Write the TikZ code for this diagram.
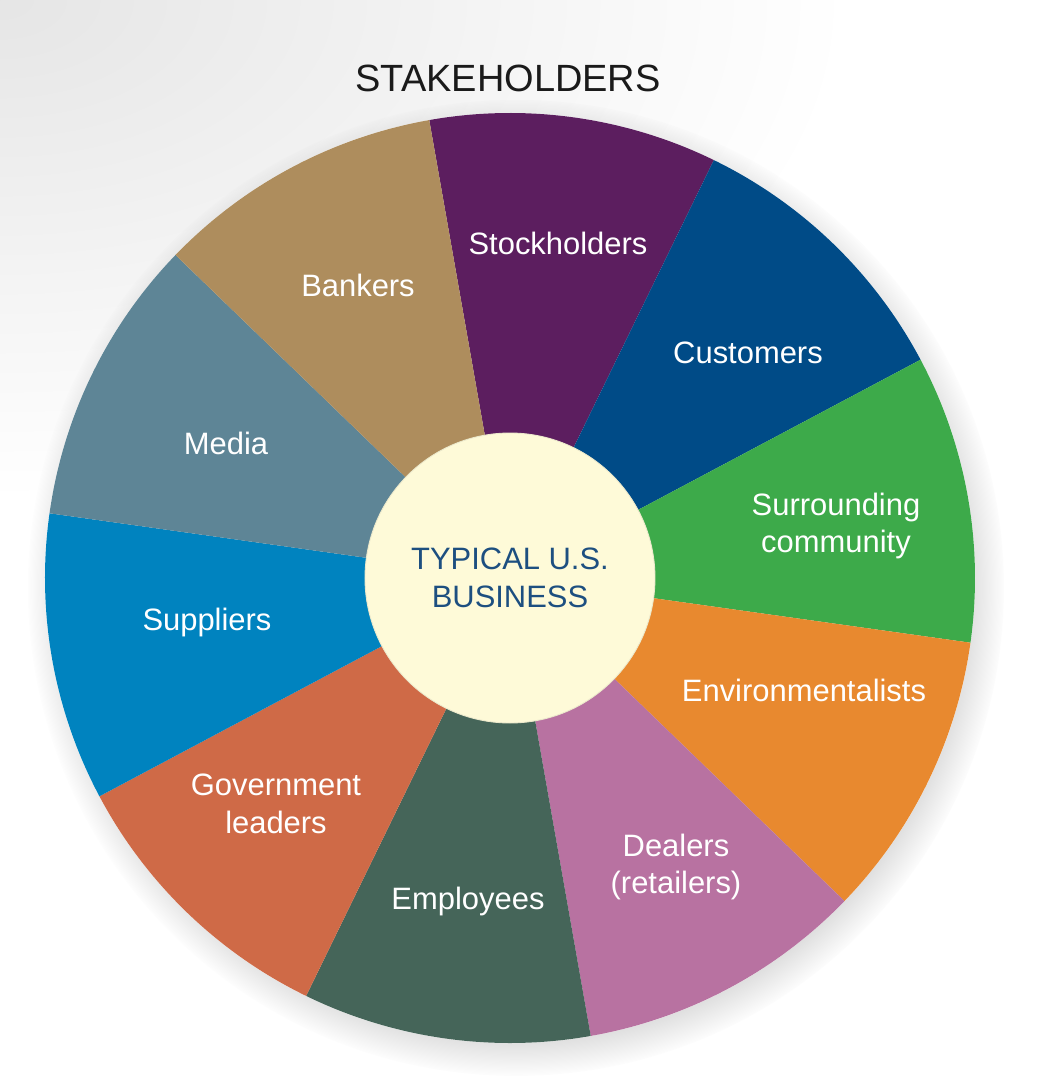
\documentclass[tikz,border=0pt]{standalone}
\usepackage{fontspec}
\setmainfont{Liberation Sans}
\usepackage{tikz}
\usetikzlibrary{shadows}
\definecolor{cTan}{HTML}{AE8D5D}
\definecolor{cPlum}{HTML}{5C1E5F}
\definecolor{cNavy}{HTML}{004B87}
\definecolor{cGreen}{HTML}{3DAA4A}
\definecolor{cOrange}{HTML}{E8892F}
\definecolor{cMauve}{HTML}{B872A1}
\definecolor{cPine}{HTML}{456559}
\definecolor{cBrick}{HTML}{CF6A47}
\definecolor{cBlue}{HTML}{0083BF}
\definecolor{cSlate}{HTML}{5E8596}
\definecolor{cCream}{HTML}{FEFAD8}
\definecolor{cHubText}{HTML}{1D4F80}
\definecolor{cInk}{HTML}{1A1A1A}
\tikzset{
  wedge/.style={fill=#1},
  lbl/.style={text=white, align=center, inner sep=0pt,
    font=\fontsize{17.6}{21.6}\selectfont},
  hub/.style={circle, fill=cCream, draw=cCream!85!gray, line width=0.5pt,
    minimum size=5.8cm, inner sep=0pt, text=cHubText, align=center,
    font=\fontsize{17.6}{21.6}\selectfont},
  heading/.style={text=cInk, inner sep=0pt, font=\fontsize{21.6}{26}\selectfont},
}

\begin{document}
\begin{tikzpicture}

  \useasboundingbox (-10.2,-10.08) rectangle (11.0,11.56);
  \fill[white] (-10.2,-10.08) rectangle (11.0,11.56);
  \begin{scope}
    \clip (-10.2,-10.08) rectangle (11.0,11.56);
    \shade[inner color=black!10, outer color=white] (-10.2,11.56) ellipse (17cm and 10cm);
  \end{scope}

  % wheel shadow
  \fill[white, circular drop shadow={shadow xshift=0.12cm, shadow yshift=-0.18cm,
        shadow scale=1.05, opacity=0.5}] (0,0) circle (9.3cm);

  % wedges
  \fill[wedge=cPlum]   (0,0) -- (64:9.3cm)   arc[start angle=64,   end angle=100,  radius=9.3cm] -- cycle;
  \fill[wedge=cNavy]   (0,0) -- (28:9.3cm)   arc[start angle=28,   end angle=64,   radius=9.3cm] -- cycle;
  \fill[wedge=cGreen]  (0,0) -- (-8:9.3cm)   arc[start angle=-8,   end angle=28,   radius=9.3cm] -- cycle;
  \fill[wedge=cOrange] (0,0) -- (-44:9.3cm)  arc[start angle=-44,  end angle=-8,   radius=9.3cm] -- cycle;
  \fill[wedge=cMauve]  (0,0) -- (-80:9.3cm)  arc[start angle=-80,  end angle=-44,  radius=9.3cm] -- cycle;
  \fill[wedge=cPine]   (0,0) -- (-116:9.3cm) arc[start angle=-116, end angle=-80,  radius=9.3cm] -- cycle;
  \fill[wedge=cBrick]  (0,0) -- (-152:9.3cm) arc[start angle=-152, end angle=-116, radius=9.3cm] -- cycle;
  \fill[wedge=cBlue]   (0,0) -- (172:9.3cm)  arc[start angle=172,  end angle=208,  radius=9.3cm] -- cycle;
  \fill[wedge=cSlate]  (0,0) -- (136:9.3cm)  arc[start angle=136,  end angle=172,  radius=9.3cm] -- cycle;
  \fill[wedge=cTan]    (0,0) -- (100:9.3cm)  arc[start angle=100,  end angle=136,  radius=9.3cm] -- cycle;

  \node[hub] (hub) at (0,0) {TYPICAL U.S.\\BUSINESS};

  \node[heading] (title) at (-0.04,10.0) {STAKEHOLDERS};

  \node[lbl] (stock) at (0.96,6.70)   {Stockholders};
  \node[lbl] (bank)  at (-3.04,5.86)  {Bankers};
  \node[lbl] (cust)  at (4.76,4.50)   {Customers};
  \node[lbl] (media) at (-5.68,2.70)  {Media};
  \node[lbl] (comm)  at (6.52,1.04)   {Surrounding\\community};
  \node[lbl] (supp)  at (-6.06,-0.90) {Suppliers};
  \node[lbl] (env)   at (5.88,-2.24)  {Environmentalists};
  \node[lbl] (gov)   at (-4.68,-4.52) {Government\\leaders};
  \node[lbl] (empl)  at (-0.84,-6.46) {Employees};
  \node[lbl] (deal)  at (3.32,-5.78)  {Dealers\\(retailers)};

\end{tikzpicture}
\end{document}
